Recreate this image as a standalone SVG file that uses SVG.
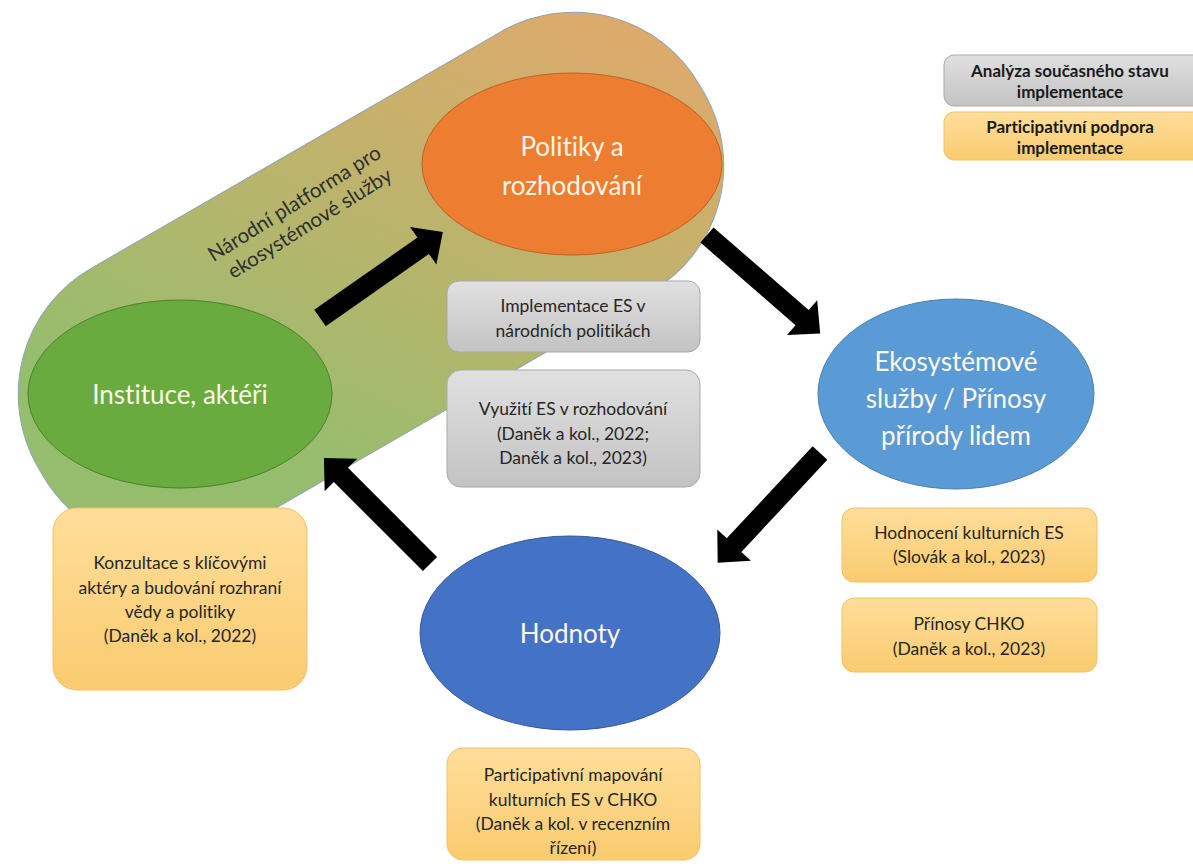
<svg xmlns="http://www.w3.org/2000/svg" width="1193" height="868" viewBox="0 0 1193 868">
  <defs>
    <linearGradient id="bandGrad" gradientUnits="userSpaceOnUse" x1="640" y1="60" x2="70" y2="470">
      <stop offset="0" stop-color="#EFA56C"/>
      <stop offset="0.45" stop-color="#C9B06B"/>
      <stop offset="1" stop-color="#94BE6E"/>
    </linearGradient>
    <linearGradient id="grayGrad" x1="0" y1="0" x2="0" y2="1">
      <stop offset="0" stop-color="#E0E0E0"/>
      <stop offset="1" stop-color="#C3C3C3"/>
    </linearGradient>
    <linearGradient id="goldGrad" x1="0" y1="0" x2="0" y2="1">
      <stop offset="0" stop-color="#FFDE9A"/>
      <stop offset="1" stop-color="#FACB70"/>
    </linearGradient>
    <style>
      text { font-variant-ligatures: none; font-family: Lato, "Open Sans", sans-serif; }
      .band { fill: url(#bandGrad); stroke: #8EA3B0; stroke-width: 1; }
      .ell-text { fill: #FFF6E8; text-anchor: middle; font-size: 26px; }
      .box-text { font-size: 17.5px; fill: #262626; text-anchor: middle; }
      .legend-text { font-size: 17px; font-weight: bold; fill: #1A1A1A; text-anchor: middle; }
      .gray { fill: url(#grayGrad); stroke: #A9A9A9; stroke-width: 1; }
      .gold { fill: url(#goldGrad); stroke: #F0C264; stroke-width: 1; }
      .arrow { fill: #000; }
    </style>
    <!-- block arrow pointing along +x, tail at origin -->
    <path id="blockArrow" d="M0,-10 L126,-10 L126,-23 L150,0 L126,23 L126,10 L0,10 Z"/>
  </defs>

  <rect width="1193" height="868" fill="#FFFFFF"/>

  <!-- national platform band -->
  <g id="platform">
    <rect class="band" x="-382" y="-150" width="764" height="300" rx="145" ry="145" transform="translate(371,280) rotate(-30)"/>
    <text font-size="20.5" fill="#2E2E2E" text-anchor="middle" transform="translate(304,214) rotate(-32)">
      <tspan x="0" y="-7">Národní platforma pro</tspan>
      <tspan x="0" y="18">ekosystémové služby</tspan>
    </text>
  </g>

  <!-- cycle nodes -->
  <g id="politiky">
    <ellipse cx="572" cy="164" rx="150" ry="91" fill="#ED7D31" stroke="#B8642A" stroke-width="1"/>
    <text class="ell-text"><tspan x="572" y="156">Politiky a</tspan><tspan x="572" y="195">rozhodování</tspan></text>
  </g>

  <g id="instituce">
    <ellipse cx="180" cy="394" rx="152" ry="94" fill="#6AAB3F" stroke="#4F7F30" stroke-width="1"/>
    <text class="ell-text" x="180" y="404">Instituce, aktéři</text>
  </g>

  <g id="ekosystemove">
    <ellipse cx="956" cy="394" rx="138" ry="95" fill="#5B9BD5" stroke="#4A80B0" stroke-width="1"/>
    <text class="ell-text"><tspan x="956" y="371">Ekosystémové</tspan><tspan x="956" y="408">služby / Přínosy</tspan><tspan x="956" y="445">přírody lidem</tspan></text>
  </g>

  <g id="hodnoty">
    <ellipse cx="570" cy="633" rx="150" ry="97" fill="#4472C4" stroke="#36599A" stroke-width="1"/>
    <text class="ell-text" x="570" y="643">Hodnoty</text>
  </g>

  <!-- analysis boxes -->
  <g id="implementace-es">
    <rect class="gray" x="447" y="281" width="253" height="71" rx="12"/>
    <text class="box-text"><tspan x="573" y="312">Implementace ES v</tspan><tspan x="573" y="337">národních politikách</tspan></text>
  </g>

  <g id="vyuziti-es">
    <rect class="gray" x="447" y="370" width="253" height="117" rx="14"/>
    <text class="box-text"><tspan x="573" y="415">Využití ES v rozhodování</tspan><tspan x="573" y="440">(Daněk a kol., 2022;</tspan><tspan x="573" y="464">Daněk a kol., 2023)</tspan></text>
  </g>

  <!-- participatory boxes -->
  <g id="konzultace">
    <rect class="gold" x="53" y="508" width="254" height="182" rx="24"/>
    <text class="box-text"><tspan x="180" y="569">Konzultace s klíčovými</tspan><tspan x="180" y="594">aktéry a budování rozhraní</tspan><tspan x="180" y="618">vědy a politiky</tspan><tspan x="180" y="642">(Daněk a kol., 2022)</tspan></text>
  </g>

  <g id="hodnoceni">
    <rect class="gold" x="842" y="508" width="255" height="74" rx="12"/>
    <text class="box-text"><tspan x="969" y="539">Hodnocení kulturních ES</tspan><tspan x="969" y="563">(Slovák a kol., 2023)</tspan></text>
  </g>

  <g id="prinosy-chko">
    <rect class="gold" x="842" y="598" width="255" height="74" rx="12"/>
    <text class="box-text"><tspan x="969" y="630">Přínosy CHKO</tspan><tspan x="969" y="655">(Daněk a kol., 2023)</tspan></text>
  </g>

  <g id="mapovani">
    <rect class="gold" x="447" y="748" width="253" height="112" rx="16"/>
    <text class="box-text"><tspan x="573" y="781">Participativní mapování</tspan><tspan x="573" y="806">kulturních  ES v CHKO</tspan><tspan x="573" y="830">(Daněk a kol. v recenzním</tspan><tspan x="573" y="854">řízení)</tspan></text>
  </g>

  <!-- legend -->
  <g id="legend-analyza">
    <rect class="gray" x="944" y="55" width="260" height="51" rx="10"/>
    <text class="legend-text"><tspan x="1070" y="77">Analýza současného stavu</tspan><tspan x="1070" y="98">implementace</tspan></text>
  </g>
  <g id="legend-participace">
    <rect class="gold" x="944" y="112" width="260" height="48" rx="10"/>
    <text class="legend-text"><tspan x="1070" y="133">Participativní podpora</tspan><tspan x="1070" y="154">implementace</tspan></text>
  </g>

  <!-- cycle arrows -->
  <g id="connectors" class="arrow">
    <use href="#blockArrow" transform="translate(320,318) rotate(-35)"/>
    <use href="#blockArrow" transform="translate(707,235) rotate(41)"/>
    <use href="#blockArrow" transform="translate(820,453) rotate(133)"/>
    <use href="#blockArrow" transform="translate(430,564) rotate(225)"/>
  </g>
</svg>
